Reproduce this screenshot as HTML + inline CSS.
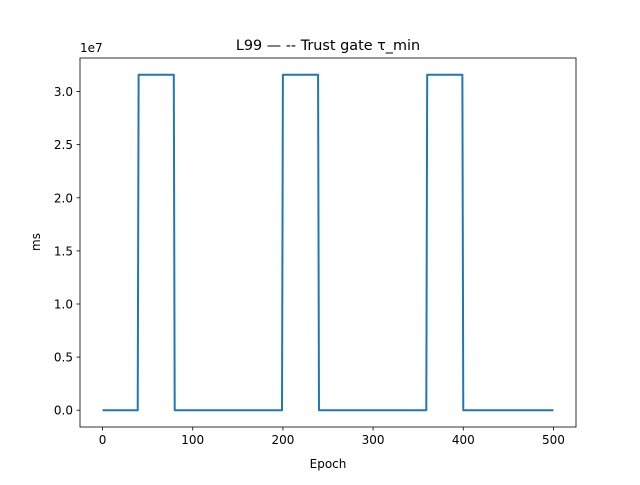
<!DOCTYPE html>
<html><head><meta charset="utf-8"><style>
body{margin:0;background:#fff}
svg text{font-family:"DejaVu Sans","Liberation Sans",sans-serif;fill:#000}
</style></head><body>
<svg id="c" width="640" height="480">
<rect width="640" height="480" fill="#fff"/>
<text x="328" y="50" font-size="14.4" text-anchor="middle">L99 — -- Trust gate τ_min</text>
<text x="328" y="468" font-size="12" text-anchor="middle">Epoch</text>
<text x="0" y="0" font-size="12" text-anchor="middle" transform="translate(40,242) rotate(-90)">ms</text>
<text x="80" y="52" font-size="12">1e7</text>
<g id="ticks"></g>
<path id="line" fill="none" stroke="#1f77b4" stroke-width="2" stroke-linejoin="round"/>
<rect x="80" y="58" width="496" height="369" fill="none" stroke="#000" stroke-width="0.8"/>
</svg>
<script>
const xs=[0,39,40,79,80,199,200,239,240,359,360,399,400,500];
const ys=[0,0,3.158,3.158,0,0,3.158,3.158,0,0,3.158,3.158,0,0];
const xTicks=[0,100,200,300,400,500];
const yTicks=[0,0.5,1.0,1.5,2.0,2.5,3.0];
const yTickLabels=["0.0","0.5","1.0","1.5","2.0","2.5","3.0"];
const L=80,R=576,T=58,B=427;
const xmin=-25,xmax=525,ymin=-0.158,ymax=3.316;
const X=v=>L+(v-xmin)/(xmax-xmin)*(R-L);
const Y=v=>B-(v-ymin)/(ymax-ymin)*(B-T);
const ns="http://www.w3.org/2000/svg";
const g=document.getElementById('ticks');
function mk(t,a){const e=document.createElementNS(ns,t);for(const k in a)e.setAttribute(k,a[k]);g.appendChild(e);return e;}
xTicks.forEach(v=>{
 const l=mk('line',{x1:X(v),x2:X(v),y1:B,y2:B+3.5,stroke:'#000','stroke-width':0.8});
 
 
 const t=mk('text',{x:X(v),y:B+17,'font-size':12,'text-anchor':'middle'});t.textContent=v;
 
 
});
yTicks.forEach((v,i)=>{
 const l=mk('line',{x1:L-3.5,x2:L,y1:Y(v),y2:Y(v),stroke:'#000','stroke-width':0.8});
 
 
 const t=mk('text',{x:L-7,y:Y(v)+4.5,'font-size':12,'text-anchor':'end'});t.textContent=yTickLabels[i];
 
 
});
document.getElementById('line').setAttribute('d',xs.map((x,i)=>(i?'L':'M')+X(x).toFixed(2)+','+Y(ys[i]).toFixed(2)).join(''));
</script>
</body></html>
